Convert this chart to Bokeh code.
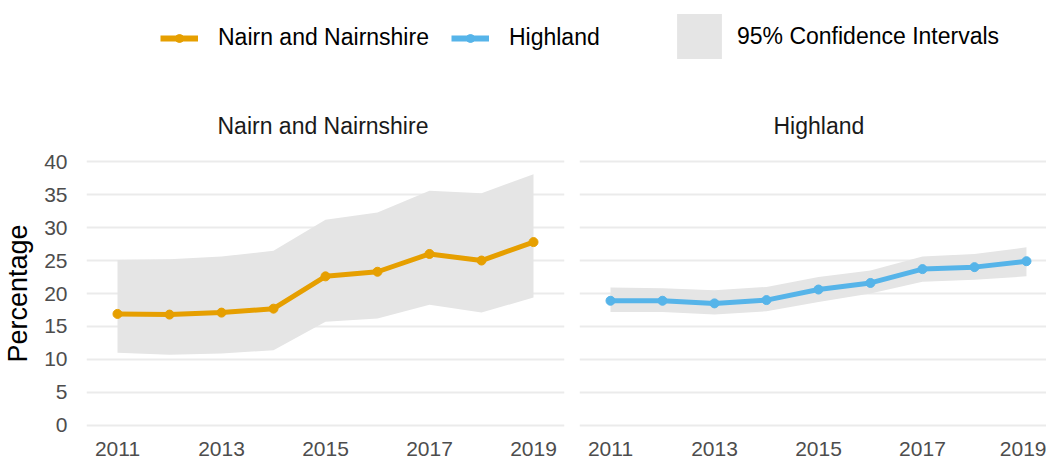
from bokeh.plotting import figure
from bokeh.layouts import column, row
from bokeh.models import FixedTicker, Legend, LegendItem, ColumnDataSource, Range1d
from bokeh.embed import file_html
from bokeh.resources import INLINE

# ---------------- data ----------------
years = [2011, 2012, 2013, 2014, 2015, 2016, 2017, 2018, 2019]
nairn_value = [16.9, 16.8, 17.1, 17.7, 22.6, 23.3, 26.0, 25.0, 27.8]
nairn_lower = [11.0, 10.7, 10.9, 11.4, 15.7, 16.2, 18.3, 17.1, 19.4]
nairn_upper = [25.1, 25.2, 25.6, 26.5, 31.2, 32.3, 35.6, 35.2, 38.1]
highland_value = [18.9, 18.9, 18.5, 19.0, 20.6, 21.6, 23.7, 24.0, 24.9]
highland_lower = [17.2, 17.2, 16.8, 17.3, 18.7, 20.0, 21.8, 22.1, 22.6]
highland_upper = [20.9, 20.8, 20.5, 21.0, 22.5, 23.5, 25.6, 26.0, 27.0]
x_ticks = [2011, 2013, 2015, 2017, 2019]
y_ticks = [0, 5, 10, 15, 20, 25, 30, 35, 40]
area_names = ["Nairn and Nairnshire", "Highland"]
ci_label = "95% Confidence Intervals"
y_label = "Percentage"

# ---------------- style ----------------
FONT = "Liberation Sans"
ORANGE = "#E69F00"
BLUE = "#56B4E9"
BAND = "#e5e5e5"
GRID = "#ebebeb"


def panel(name, values, lower, upper, colour, show_y, fw, x_end, border_right,
          title_offset):
    src = ColumnDataSource(dict(x=years, y=values, lo=lower, hi=upper))
    p = figure(frame_width=fw, frame_height=290,
               x_range=Range1d(2010.404, x_end), y_range=Range1d(-2, 42),
               toolbar_location=None, output_backend="svg",
               title=name, min_border_left=0, min_border_right=border_right,
               min_border_top=0, min_border_bottom=0,
               outline_line_color=None, background_fill_color="white",
               border_fill_color="white")
    p.title.align = "left"
    p.title.offset = title_offset
    p.title.text_font = FONT
    p.title.text_font_size = "23px"
    p.title.text_font_style = "normal"
    p.title.text_color = "#1a1a1a"
    p.title.standoff = 19

    p.varea(x="x", y1="lo", y2="hi", source=src, fill_color=BAND)
    p.line(x="x", y="y", source=src, line_color=colour, line_width=5)
    p.scatter(x="x", y="y", source=src, color=colour, size=9)

    p.xaxis.ticker = FixedTicker(ticks=x_ticks)
    p.yaxis.ticker = FixedTicker(ticks=y_ticks)
    for ax in (p.xaxis, p.yaxis):
        ax.axis_line_color = None
        ax.major_tick_line_color = None
        ax.minor_tick_line_color = None
        ax.major_label_text_font = FONT
        ax.major_label_text_font_size = "21px"
        ax.major_label_text_color = "#4d4d4d"
    p.xaxis.major_label_standoff = -3
    p.yaxis.major_label_standoff = 13
    p.xgrid.grid_line_color = None
    p.ygrid.grid_line_color = GRID
    p.ygrid.grid_line_width = 2
    if show_y:
        p.yaxis.axis_label = y_label
        p.yaxis.axis_label_text_font = FONT
        p.yaxis.axis_label_text_font_size = "27px"
        p.yaxis.axis_label_text_font_style = "normal"
        p.yaxis.axis_label_text_color = "black"
        p.yaxis.axis_label_standoff = 8
    else:
        p.yaxis.visible = False
    return p


left = panel(area_names[0], nairn_value, nairn_lower, nairn_upper, ORANGE,
             True, 478, 2019.596, 15, 131)
right = panel(area_names[1], highland_value, highland_lower, highland_upper, BLUE,
              False, 467, 2019.385, 0, 194)

# ---------------- legend strip ----------------
# the strip's ranges lie outside the data, so only the legend shows
top = figure(width=1038, height=101, toolbar_location=None, output_backend="svg",
             x_range=Range1d(0, 1), y_range=Range1d(0, 1),
             x_axis_type=None, y_axis_type=None, min_border=0,
             outline_line_color=None)
top.grid.visible = False
l1 = top.line(x=years, y=nairn_value, line_color=ORANGE, line_width=6)
s1 = top.scatter(x=years, y=nairn_value, color=ORANGE, size=10)
l2 = top.line(x=years, y=highland_value, line_color=BLUE, line_width=6)
s2 = top.scatter(x=years, y=highland_value, color=BLUE, size=10)
b1 = top.varea(x=years, y1=highland_lower, y2=highland_upper, fill_color=BAND)

common = dict(orientation="horizontal", padding=0, margin=0,
              border_line_color=None, background_fill_alpha=0,
              label_text_font=FONT, label_text_font_size="23px",
              label_text_color="black")
leg1 = Legend(items=[LegendItem(label=area_names[0], renderers=[l1, s1]),
                     LegendItem(label=area_names[1], renderers=[l2, s2])],
              location=(160, 50), glyph_width=38, glyph_height=20,
              label_standoff=20, spacing=22, **common)
leg2 = Legend(items=[LegendItem(label=ci_label, renderers=[b1])],
              location=(671, 37), glyph_width=56, glyph_height=56,
              label_standoff=10, **common)
top.add_layout(leg1)
top.add_layout(leg2)

layout = column(top, row(left, right, spacing=0), spacing=0)
open("out.html", "w").write(file_html(layout, INLINE))
